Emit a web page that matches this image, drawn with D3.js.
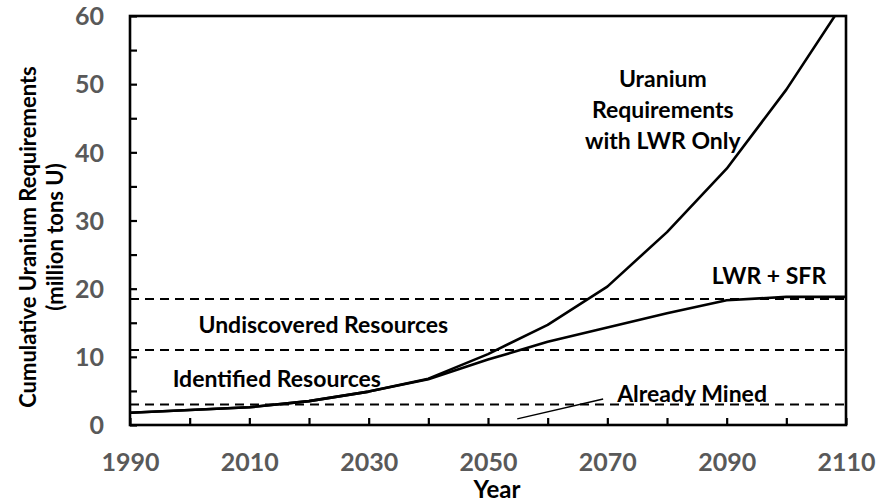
<!DOCTYPE html>
<html>
<head>
<meta charset="utf-8">
<script src="https://cdn.jsdelivr.net/npm/d3@7"></script>
<style>
  html, body { margin: 0; padding: 0; background: #fff; }
  svg { display: block; font-family: Lato, "Open Sans", sans-serif; }
</style>
</head>
<body>
<svg id="chart" width="880" height="502"></svg>
<script>
// Cumulative uranium requirements (million tons U) by year
const years = [1990, 2000, 2010, 2020, 2030, 2040, 2050, 2060, 2070, 2080, 2090, 2100, 2110];
const lwrOnly = [1.8, 2.2, 2.6, 3.5, 4.9, 6.8, 10.4, 14.7, 20.3, 28.3, 37.6, 49.2, 62.5];
const lwrSfr  = [1.8, 2.2, 2.6, 3.5, 4.9, 6.7, 9.6, 12.2, 14.3, 16.4, 18.3, 18.8, 18.8];

// Resource thresholds: already mined, + identified, + undiscovered
const resourceLevels = [3, 11, 18.5];

const xTickValues = [1990, 2000, 2010, 2020, 2030, 2040, 2050, 2060, 2070, 2080, 2090, 2100, 2110];
const xTickLabels = ["1990", "2010", "2030", "2050", "2070", "2090", "2110"];
const yTickValues = [0, 5, 10, 15, 20, 25, 30, 35, 40, 45, 50, 55, 60];
const yTickLabels = ["0", "10", "20", "30", "40", "50", "60"];

// In-plot annotations, anchored in data units
const annotations = [
  { lines: ["Uranium", "Requirements", "with LWR Only"], year: 2079.3, value: 46.2 },
  { lines: ["LWR + SFR"], year: 2097.1, value: 21.9 },
  { lines: ["Undiscovered Resources"], year: 2022.4, value: 14.7 },
  { lines: ["Identified Resources"], year: 2014.6, value: 6.7 },
  { lines: ["Already Mined"], year: 2084.2, value: 4.6 }
];
const leader = [[2054.9, 0.9], [2069.3, 3.8]];

const svg = d3.select("#chart");
const m = { left: 130, right: 34, top: 16, bottom: 77 };
const W = 880, H = 502;
const x = d3.scaleLinear().domain([1990, 2110]).range([m.left, W - m.right]);
const y = d3.scaleLinear().domain([0, 60]).range([H - m.bottom, m.top]);

svg.append("defs").append("clipPath").attr("id", "plot")
  .append("rect")
  .attr("x", x(1990)).attr("y", y(60))
  .attr("width", x(2110) - x(1990)).attr("height", y(0) - y(60));

// Dashed resource levels
svg.append("g").selectAll("line").data(resourceLevels).join("line")
  .attr("x1", x(1990)).attr("x2", x(2110))
  .attr("y1", d => y(d)).attr("y2", d => y(d))
  .attr("stroke", "#000").attr("stroke-width", 2)
  .attr("stroke-dasharray", "9,6");

// Axes with inward ticks
const xAxis = d3.axisBottom(x).tickValues(xTickValues).tickSize(-7)
  .tickFormat(d => xTickLabels.includes(String(d)) ? String(d) : "");
const yAxis = d3.axisLeft(y).tickValues(yTickValues).tickSize(-7)
  .tickFormat(d => yTickLabels.includes(String(d)) ? String(d) : "");

const gx = svg.append("g").attr("transform", `translate(0,${y(0)})`).call(xAxis);
gx.select(".domain").remove();
gx.selectAll(".tick line").attr("stroke", "#000").attr("stroke-width", 2.2);
gx.selectAll(".tick text")
  .attr("y", 37).attr("dy", "0.35em")
  .attr("fill", "#595959").attr("font-size", 25).attr("font-weight", 700)
  .attr("font-family", "Lato, sans-serif");

const gy = svg.append("g").attr("transform", `translate(${x(1990)},0)`).call(yAxis);
gy.select(".domain").remove();
gy.selectAll(".tick line").attr("stroke", "#000").attr("stroke-width", 2.2);
gy.selectAll(".tick text")
  .attr("x", -26).attr("dy", "0.35em")
  .attr("fill", "#595959").attr("font-size", 25).attr("font-weight", 700)
  .attr("font-family", "Lato, sans-serif");

// Series lines
const line = d3.line().x(d => x(d[0])).y(d => y(d[1]));
const plot = svg.append("g").attr("clip-path", "url(#plot)");
[lwrOnly, lwrSfr].forEach(vals => {
  plot.append("path")
    .datum(years.map((yr, i) => [yr, vals[i]]))
    .attr("d", line)
    .attr("fill", "none").attr("stroke", "#000").attr("stroke-width", 2.6)
    .attr("stroke-linejoin", "round");
});

// Plot frame
svg.append("rect")
  .attr("x", x(1990)).attr("y", y(60))
  .attr("width", x(2110) - x(1990)).attr("height", y(0) - y(60))
  .attr("fill", "none").attr("stroke", "#000").attr("stroke-width", 2.6);

// Annotations
const ann = svg.append("g").attr("font-size", 23).attr("font-weight", 700)
  .attr("fill", "#000").attr("text-anchor", "middle");
annotations.forEach(a => {
  const n = a.lines.length, lh = 31;
  a.lines.forEach((t, i) => {
    ann.append("text")
      .attr("x", x(a.year))
      .attr("y", y(a.value) + (i - (n - 1) / 2) * lh)
      .attr("dy", "0.35em")
      .text(t);
  });
});
svg.append("line")
  .attr("x1", x(leader[0][0])).attr("y1", y(leader[0][1]))
  .attr("x2", x(leader[1][0])).attr("y2", y(leader[1][1]))
  .attr("stroke", "#000").attr("stroke-width", 1.5);

// Axis titles
svg.append("text")
  .attr("x", 497).attr("y", 498)
  .attr("text-anchor", "middle")
  .attr("font-size", 24).attr("font-weight", 700)
  .text("Year");

const yt = svg.append("g").attr("transform", "translate(0,237) rotate(-90)")
  .attr("text-anchor", "middle").attr("font-size", 22).attr("font-weight", 700);
yt.append("text").attr("x", 0).attr("y", 36).text("Cumulative Uranium Requirements");
yt.append("text").attr("x", 0).attr("y", 63).text("(million tons U)");
</script>
</body>
</html>
